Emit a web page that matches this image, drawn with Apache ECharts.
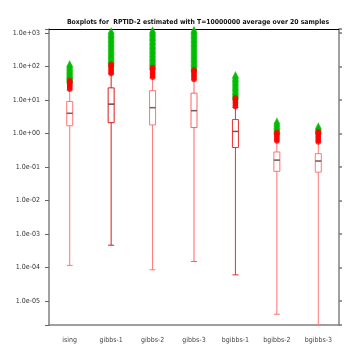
<!DOCTYPE html>
<html>
<head>
<meta charset="utf-8">
<script src="https://cdn.jsdelivr.net/npm/echarts@6/dist/echarts.min.js"></script>
<style>
html,body{margin:0;padding:0;background:#fff}
#chart{width:354px;height:354px}
</style>
</head>
<body>
<div id="chart"></div>
<script>
// RPTID-2 boxplots, log scale
var categories = ['ising', 'gibbs-1', 'gibbs-2', 'gibbs-3', 'bgibbs-1', 'bgibbs-2', 'bgibbs-3']

// [lower whisker, Q1, median, Q3, upper whisker]
var boxStats = [
  [1.15e-4, 1.7, 4.0, 9.0, 20],
  [4.6e-4, 2.1, 7.5, 23, 60],
  [8.5e-5, 1.8, 5.9, 19, 46],
  [1.5e-4, 1.5, 4.8, 16, 40],
  [6e-5, 0.38, 1.15, 2.6, 6.0],
  [4e-6, 0.074, 0.16, 0.28, 0.59],
  [1.9e-6, 0.07, 0.15, 0.25, 0.55]
]
var boxColors = ['#ff7777', '#e01818', '#ff7777', '#ff6060', '#e83030', '#ff7070', '#ff7777']

// outliers (red: mild, green: far)
var redOut = [
  [21, 23, 25, 27, 29, 31, 33, 35, 38],
  [62, 68, 75, 82, 90, 98, 107, 117],
  [48, 53, 58, 64, 70, 77, 85, 93],
  [41, 45, 50, 55, 60, 66, 72, 79],
  [6.3, 7.0, 7.8, 8.6, 9.5, 10.5, 11.6],
  [0.6, 0.66, 0.73, 0.8, 0.88, 0.97, 1.07],
  [0.56, 0.62, 0.68, 0.75, 0.83, 0.92, 1.02, 1.12]
]
var greenOut = [
  [40, 43, 46, 50, 54, 58, 63, 68, 73, 79, 86, 94, 103, 112, 122],
  [125, 138, 150, 163, 178, 195, 212, 232, 254, 278, 305, 335, 366, 400, 440, 480, 525, 575, 630, 690, 755, 825, 905, 990, 1090, 1190],
  [100, 110, 120, 131, 143, 156, 171, 187, 205, 225, 246, 270, 295, 323, 354, 388, 425, 465, 510, 558, 611, 670, 733, 803, 880, 963, 1055, 1155, 1260],
  [85, 93, 102, 112, 122, 134, 147, 161, 176, 193, 211, 231, 253, 277, 304, 333, 365, 400, 438, 480, 525, 575, 630, 690, 756, 828, 907, 993, 1090, 1190, 1300],
  [12.6, 13.8, 15, 16.5, 18, 19.7, 21.5, 23.5, 25.8, 28, 30.8, 33.7, 36.8, 40.3, 44, 48, 53, 58],
  [1.15, 1.25, 1.36, 1.48, 1.62, 1.77, 1.95, 2.15, 2.4],
  [1.2, 1.3, 1.42, 1.55, 1.7]
]

var yMin = Math.pow(10, -5.72)
var yMax = Math.pow(10, 3.12)
var font = 'Liberation Sans Narrow, DejaVu Sans Condensed, sans-serif'

function expLabel(v){
  var l = Math.log10(v)
  var e = Math.round(l)
  if (Math.abs(l - e) > 1e-6) return ''
  var a = Math.abs(e)
  return '1.0e' + (e < 0 ? '-' : '+') + (a < 10 ? '0' : '') + a
}

var boxData = []
var medData = []
var redData = []
var greenData = []
for (var i = 0; i < categories.length; i++){
  boxData.push({value: boxStats[i], itemStyle: {borderColor: boxColors[i]}})
  medData.push([categories[i], boxStats[i][2]])
  for (var j = 0; j < redOut[i].length; j++) redData.push([categories[i], redOut[i][j]])
  for (var k = 0; k < greenOut[i].length; k++) greenData.push([categories[i], greenOut[i][k]])
}

var chart = echarts.init(document.getElementById('chart'), null, {renderer: 'canvas'})
chart.setOption({
  animation: false,
  title: {
    text: 'Boxplots for  RPTID-2 estimated with T=10000000 average over 20 samples',
    left: 193, top: 14, textAlign: 'center',
    textStyle: {fontSize: 6.8, fontWeight: 'bold', color: '#111', fontFamily: font}
  },
  grid: {left: 49, right: 15, top: 29, bottom: 29},
  xAxis: [{
    type: 'category', data: categories, position: 'bottom',
    axisLine: {lineStyle: {color: '#808080', width: 1.5}},
    axisTick: {alignWithLabel: true, interval: 0, length: 3, lineStyle: {color: '#555'}},
    axisLabel: {interval: 0, fontSize: 7, color: '#444', margin: 12, fontFamily: font}
  }, {
    type: 'category', data: categories, position: 'top',
    axisLine: {lineStyle: {color: '#000', width: 1.2}},
    axisTick: {alignWithLabel: true, interval: 0, length: 3, lineStyle: {color: '#444'}},
    axisLabel: {show: false}
  }],
  yAxis: [{
    type: 'log', logBase: 10, min: yMin, max: yMax, splitNumber: 9,
    position: 'left',
    axisLine: {show: true, lineStyle: {color: '#808080', width: 1.5}},
    axisTick: {show: true, length: 4, lineStyle: {color: '#666'}},
    axisLabel: {formatter: expLabel, fontSize: 7, color: '#333', margin: 9, fontFamily: font},
    splitLine: {show: false}
  }, {
    type: 'log', logBase: 10, min: yMin, max: yMax, splitNumber: 9,
    position: 'right',
    axisLine: {show: true, lineStyle: {color: '#808080', width: 1.5}},
    axisTick: {show: true, length: 3, lineStyle: {color: '#777', width: 1.5}},
    axisLabel: {show: false},
    splitLine: {show: false}
  }],
  series: [{
    type: 'boxplot', data: boxData, boxWidth: [6, 6],
    itemStyle: {color: '#fff', borderWidth: 1},
    z: 2
  }, {
    type: 'scatter', data: medData, symbol: 'rect', symbolSize: [6, 1.5],
    itemStyle: {color: '#555'}, z: 3
  }, {
    type: 'scatter', data: greenData, symbol: 'triangle', symbolSize: 7,
    itemStyle: {color: '#00bb00'}, z: 4
  }, {
    type: 'scatter', data: redData, symbol: 'circle', symbolSize: 5.5,
    itemStyle: {color: '#ff0000'}, z: 5
  }]
})
</script>
</body>
</html>
